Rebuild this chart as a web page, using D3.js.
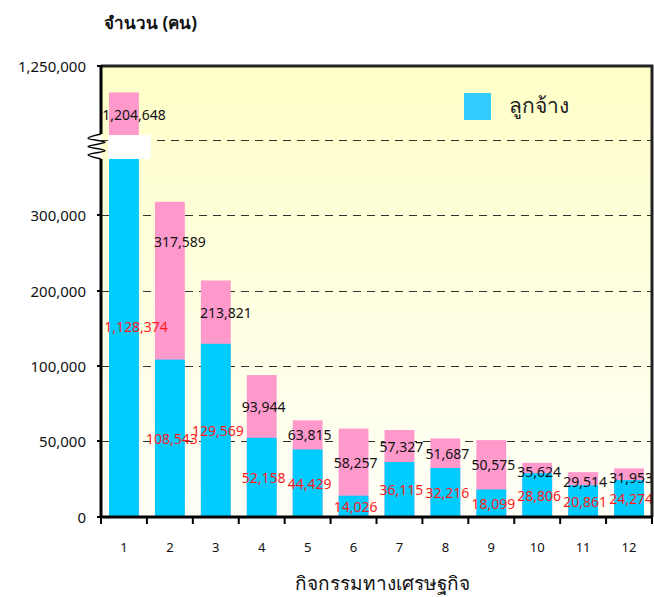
<!DOCTYPE html>
<html>
<head>
<meta charset="utf-8">
<script src="https://cdn.jsdelivr.net/npm/d3@7"></script>
<style>
  body { margin: 0; background: #fff; }
  svg text { font-family: "Noto Sans", "DejaVu Sans", sans-serif; }
  .tick-label { font-size: 15px; fill: #111; }
  .cat-label { font-size: 13px; fill: #111; }
  .total-label { font-size: 14px; fill: #111; }
  .emp-label { font-size: 14px; fill: #ff1a1a; }
</style>
</head>
<body>
<div id="chart"></div>
<script>
// data ======================================================
const categories = ["1", "2", "3", "4", "5", "6", "7", "8", "9", "10", "11", "12"];
const totals = [1204648, 317589, 213821, 93944, 63815, 58257, 57327, 51687, 50575, 35624, 29514, 31953];
const employees = [1128374, 108543, 129569, 52158, 44429, 14026, 36115, 32216, 18099, 28806, 20861, 24274];
const yTicks = [0, 50000, 100000, 200000, 300000, 1250000];
const gridTicks = [50000, 100000, 200000, 300000];
const legendLabel = "ลูกจ้าง";
const yTitle = "จำนวน (คน)";
const xTitle = "กิจกรรมทางเศรษฐกิจ";

const width = 654, height = 597;
const plotL = 101, plotR = 652, plotT = 66, plotB = 517;

let svg = d3.select("#chart")
  .append("svg")
  .attr("width", width)
  .attr("height", height);

// broken axis: the gap between 376k and 1.13M is hidden by the break
let y = d3.scaleLinear()
  .domain([0, 50000, 100000, 200000, 300000, 376000, 1130000, 1250000])
  .range([517, 441, 366, 291, 215, 158, 136, 66]);

let x = d3.scaleBand()
  .domain(categories)
  .range([plotL, plotR])
  .padding(0);

let barW = x.bandwidth() * 0.65;

// plot background
let grad = svg.append("defs").append("linearGradient")
  .attr("id", "bg")
  .attr("x1", 0).attr("y1", 0).attr("x2", 0).attr("y2", 1);
grad.append("stop").attr("offset", "0%").attr("stop-color", "#ffffc8");
grad.append("stop").attr("offset", "100%").attr("stop-color", "#fffff8");

svg.append("rect")
  .attr("x", plotL).attr("y", plotT)
  .attr("width", plotR - plotL).attr("height", plotB - plotT)
  .attr("fill", "url(#bg)");

// gridlines
svg.selectAll(".grid")
  .data(gridTicks)
  .enter()
  .append("line")
  .attr("x1", plotL).attr("x2", plotR)
  .attr("y1", d => Math.round(y(d)) + 0.5).attr("y2", d => Math.round(y(d)) + 0.5)
  .attr("stroke", "#333")
  .attr("stroke-width", 1)
  .attr("stroke-dasharray", "8,6");

// break line
let breakY = Math.round(y(1130000)) + 4.5;
svg.append("line")
  .attr("x1", plotL).attr("x2", plotR)
  .attr("y1", breakY).attr("y2", breakY)
  .attr("stroke", "#333")
  .attr("stroke-dasharray", "8,6");

// bars
let g = svg.selectAll(".bar")
  .data(categories)
  .enter()
  .append("g")
  .attr("class", "bar");

g.append("rect")
  .attr("x", d => x(d) + (x.bandwidth() - barW) / 2)
  .attr("width", barW)
  .attr("y", (d, i) => y(totals[i]))
  .attr("height", (d, i) => y(0) - y(totals[i]))
  .attr("fill", "#ff99cc");

g.append("rect")
  .attr("x", d => x(d) + (x.bandwidth() - barW) / 2)
  .attr("width", barW)
  .attr("y", (d, i) => y(employees[i]))
  .attr("height", (d, i) => y(0) - y(employees[i]))
  .attr("fill", "#00ccff");

// white patch over the break
let first = categories[0];
svg.append("rect")
  .attr("x", plotL + 7)
  .attr("y", y(1130000) - 1)
  .attr("width", x(first) + (x.bandwidth() + barW) / 2 - plotL + 5)
  .attr("height", y(376000) - y(1130000) + 2)
  .attr("fill", "#fff");

// data labels
let labels = svg.append("g");

labels.selectAll(".total-label")
  .data(categories)
  .enter()
  .append("text")
  .attr("class", "total-label")
  .attr("text-anchor", "middle")
  .attr("dominant-baseline", "central")
  .attr("x", (d, i) => x(d) + x.bandwidth() / 2 + (totals[i] > 200000 ? 10 : 2))
  .attr("y", (d, i) => {
    let t = y(totals[i]), b = Math.min(y(employees[i]), y(0));
    if (totals[i] > 1000000) b = y(1130000);
    return t + Math.min(Math.max(9, (b - t) * 0.5), 40);
  })
  .text((d, i) => d3.format(",")(totals[i]));

labels.selectAll(".emp-label")
  .data(categories)
  .enter()
  .append("text")
  .attr("class", "emp-label")
  .attr("text-anchor", "middle")
  .attr("dominant-baseline", "central")
  .attr("x", (d, i) => x(d) + x.bandwidth() / 2 + (employees[i] > 1000000 ? 12 : 2))
  .attr("y", (d, i) => {
    let t = Math.max(y(employees[i]), y(1130000));
    return Math.min((t + y(0)) / 2, y(0) - 10);
  })
  .text((d, i) => d3.format(",")(employees[i]));

// axes frame
svg.append("path")
  .attr("d", `M${plotL},${plotT}H${plotR}V${plotB}`)
  .attr("fill", "none")
  .attr("stroke", "#222")
  .attr("stroke-width", 3);

svg.append("line")
  .attr("x1", plotL - 1).attr("x2", plotR + 1)
  .attr("y1", plotB).attr("y2", plotB)
  .attr("stroke", "#000").attr("stroke-width", 3);

// left axis with the gap for the break
svg.append("line")
  .attr("x1", plotL).attr("x2", plotL)
  .attr("y1", plotT - 1).attr("y2", y(1130000) - 2)
  .attr("stroke", "#000").attr("stroke-width", 3);
svg.append("line")
  .attr("x1", plotL).attr("x2", plotL)
  .attr("y1", y(376000) + 1).attr("y2", plotB + 1)
  .attr("stroke", "#000").attr("stroke-width", 3);

// zigzag break mark
let zy0 = y(1130000) - 2, zy1 = y(376000) + 1, zh = (zy1 - zy0) / 6;
let zig = [[plotL, zy0], [plotL - 13, zy0 + zh], [plotL + 4, zy0 + 2 * zh], [plotL - 13, zy0 + 3 * zh],
           [plotL + 4, zy0 + 4 * zh], [plotL - 13, zy0 + 5 * zh], [plotL, zy1]];
svg.append("path")
  .attr("d", d3.line().curve(d3.curveCatmullRom)(zig))
  .attr("fill", "none")
  .attr("stroke", "#000")
  .attr("stroke-width", 1.5);

// y ticks
svg.selectAll(".ytick")
  .data(yTicks)
  .enter()
  .append("line")
  .attr("x1", plotL - 4).attr("x2", plotL)
  .attr("y1", d => y(d)).attr("y2", d => y(d))
  .attr("stroke", "#000").attr("stroke-width", 2);

svg.selectAll(".ylab")
  .data(yTicks)
  .enter()
  .append("text")
  .attr("class", "tick-label")
  .attr("x", 86)
  .attr("y", d => y(d))
  .attr("text-anchor", "end")
  .attr("dominant-baseline", "central")
  .text(d => d3.format(",")(d));

// x ticks at band boundaries
let bounds = categories.map(d => x(d)).concat([plotR]);
svg.selectAll(".xtick")
  .data(bounds)
  .enter()
  .append("line")
  .attr("x1", d => d).attr("x2", d => d)
  .attr("y1", plotB).attr("y2", plotB + 7)
  .attr("stroke", "#000").attr("stroke-width", 2);

svg.selectAll(".xlab")
  .data(categories)
  .enter()
  .append("text")
  .attr("class", "cat-label")
  .attr("x", d => x(d) + x.bandwidth() / 2)
  .attr("y", 547)
  .attr("text-anchor", "middle")
  .attr("dominant-baseline", "central")
  .text(d => d);

// titles
svg.append("text")
  .attr("x", 104).attr("y", 22)
  .attr("dominant-baseline", "central")
  .attr("font-size", "17px")
  .attr("font-weight", "bold")
  .attr("fill", "#111")
  .text(yTitle);

svg.append("text")
  .attr("x", 382).attr("y", 583)
  .attr("text-anchor", "middle")
  .attr("dominant-baseline", "central")
  .attr("font-size", "19px")
  .attr("fill", "#111")
  .text(xTitle);

// legend
svg.append("rect")
  .attr("x", 464).attr("y", 93)
  .attr("width", 27).attr("height", 27)
  .attr("fill", "#33ccff");

svg.append("text")
  .attr("x", 509).attr("y", 105)
  .attr("dominant-baseline", "central")
  .attr("font-size", "21px")
  .attr("fill", "#222")
  .text(legendLabel);
</script>
</body>
</html>
